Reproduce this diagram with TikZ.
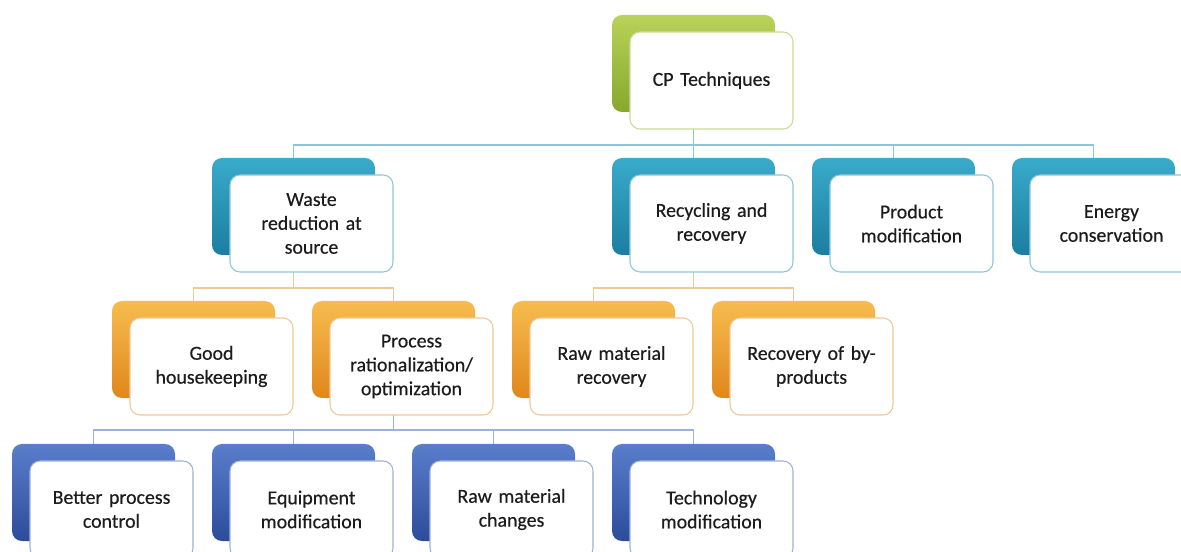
\documentclass[tikz,border=0pt]{standalone}
\usepackage{fontspec}
\setmainfont{Carlito}
\newfontfamily\boxfont{Carlito}[FakeBold=0.4]
\definecolor{gTop}{HTML}{B9D25A}\definecolor{gBot}{HTML}{86A82C}\definecolor{gLine}{HTML}{C8DC94}
\definecolor{tTop}{HTML}{3AAACB}\definecolor{tBot}{HTML}{1B7EA0}\definecolor{tLine}{HTML}{8CC6DA}
\definecolor{oTop}{HTML}{F7BC4E}\definecolor{oBot}{HTML}{E0871C}\definecolor{oLine}{HTML}{F0C894}
\definecolor{bTop}{HTML}{5A7ECC}\definecolor{bBot}{HTML}{2C4C9A}\definecolor{bLine}{HTML}{9DB0DE}
\definecolor{txt}{HTML}{1C1C1C}
\tikzset{
  backbox/.style 2 args={rectangle, rounded corners=0.2cm, minimum width=3.26cm, minimum height=1.94cm,
     top color=#1, bottom color=#2, draw=none, inner sep=0pt},
  frontbox/.style={rectangle, rounded corners=0.2cm, minimum width=3.26cm, minimum height=1.94cm,
     fill=white, draw=#1, line width=0.6pt, text width=3.1cm, align=center, inner sep=0pt,
     font=\boxfont\fontsize{11.3}{13.6}\selectfont, text=txt},
  conn/.style={draw=#1, line width=0.7pt},
}
\begin{document}
\begin{tikzpicture}
\useasboundingbox (0,0) rectangle (23.62,-11.04);
\clip (0,0) rectangle (23.62,-11.04);
% coordinates of buses
\coordinate (busA) at (0,-2.9);
\coordinate (busB) at (0,-5.76);
\coordinate (busC) at (0,-8.6);
% back boxes
\node[backbox={gTop}{gBot}] (cpb) at (13.87,-1.27) {};
\node[backbox={tTop}{tBot}] (wrb) at (5.87,-4.13) {};
\node[backbox={tTop}{tBot}] (rrb) at (13.87,-4.13) {};
\node[backbox={tTop}{tBot}] (pmb) at (17.87,-4.13) {};
\node[backbox={tTop}{tBot}] (ecb) at (21.87,-4.13) {};
\node[backbox={oTop}{oBot}] (ghb) at (3.87,-6.99) {};
\node[backbox={oTop}{oBot}] (prb) at (7.87,-6.99) {};
\node[backbox={oTop}{oBot}] (rmrb) at (11.87,-6.99) {};
\node[backbox={oTop}{oBot}] (bpb) at (15.87,-6.99) {};
\node[backbox={bTop}{bBot}] (bcb) at (1.87,-9.85) {};
\node[backbox={bTop}{bBot}] (emb) at (5.87,-9.85) {};
\node[backbox={bTop}{bBot}] (rmcb) at (9.87,-9.85) {};
\node[backbox={bTop}{bBot}] (tmb) at (13.87,-9.85) {};
% connectors
\draw[conn=tLine] (cpb.south) -- (cpb.south |- busA) -| (wrb.north);
\draw[conn=tLine] (cpb.south |- busA) -- (rrb.north);
\draw[conn=tLine] (cpb.south |- busA) -| (pmb.north);
\draw[conn=tLine] (cpb.south |- busA) -| (ecb.north);
\draw[conn=oLine] (wrb.south) -- (wrb.south |- busB) -| (ghb.north);
\draw[conn=oLine] (wrb.south |- busB) -| (prb.north);
\draw[conn=oLine] (rrb.south) -- (rrb.south |- busB) -| (rmrb.north);
\draw[conn=oLine] (rrb.south |- busB) -| (bpb.north);
\draw[conn=bLine] (prb.south) -- (prb.south |- busC) -| (bcb.north);
\draw[conn=bLine] (prb.south |- busC) -| (emb.north);
\draw[conn=bLine] (prb.south |- busC) -| (rmcb.north);
\draw[conn=bLine] (prb.south |- busC) -| (tmb.north);
% front boxes
\node[frontbox=gLine] (cp) at ([shift={(0.36,-0.34)}]cpb.center) {CP Techniques};
\node[frontbox=tLine] (wr) at ([shift={(0.36,-0.34)}]wrb.center) {Waste\\reduction at\\source};
\node[frontbox=tLine] (rr) at ([shift={(0.36,-0.34)}]rrb.center) {Recycling and\\recovery};
\node[frontbox=tLine] (pm) at ([shift={(0.36,-0.34)}]pmb.center) {Product\\modification};
\node[frontbox=tLine] (ec) at ([shift={(0.36,-0.34)}]ecb.center) {Energy\\conservation};
\node[frontbox=oLine] (gh) at ([shift={(0.36,-0.34)}]ghb.center) {Good\\housekeeping};
\node[frontbox=oLine] (pr) at ([shift={(0.36,-0.34)}]prb.center) {Process\\rationalization/\\optimization};
\node[frontbox=oLine] (rmr) at ([shift={(0.36,-0.34)}]rmrb.center) {Raw material\\recovery};
\node[frontbox=oLine] (bp) at ([shift={(0.36,-0.34)}]bpb.center) {Recovery of by-\\products};
\node[frontbox=bLine] (bc) at ([shift={(0.36,-0.34)}]bcb.center) {Better process\\control};
\node[frontbox=bLine] (em) at ([shift={(0.36,-0.34)}]emb.center) {Equipment\\modification};
\node[frontbox=bLine] (rmc) at ([shift={(0.36,-0.34)}]rmcb.center) {Raw material\\changes};
\node[frontbox=bLine] (tm) at ([shift={(0.36,-0.34)}]tmb.center) {Technology\\modification};
\end{tikzpicture}
\end{document}
